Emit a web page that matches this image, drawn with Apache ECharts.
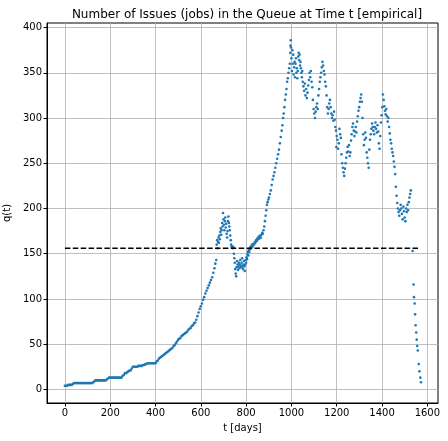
<!DOCTYPE html>
<html>
<head>
<meta charset="utf-8">
<script src="https://cdn.jsdelivr.net/npm/echarts@6/dist/echarts.min.js"></script>
<style>
  html, body { margin: 0; padding: 0; background: #fff; }
  #queue { width: 448px; height: 441px; }
</style>
</head>
<body>
<div id="queue"></div>
<script>
  // t [days] and q(t)
  var tDays = [
    0, 5, 10, 15, 20, 25, 30, 35, 40, 45, 50, 55, 60, 65, 70, 75, 80, 85, 90, 95,
    100, 105, 110, 115, 120, 125, 130, 135, 140, 145, 150, 155, 160, 165, 170, 175, 180, 185, 190, 195,
    200, 205, 210, 215, 220, 225, 230, 235, 240, 245, 250, 255, 260, 265, 270, 275, 280, 285, 290, 295,
    300, 305, 310, 315, 320, 325, 330, 335, 340, 345, 350, 355, 360, 365, 370, 375, 380, 385, 390, 395,
    400, 405, 410, 415, 420, 425, 430, 435, 440, 445, 450, 455, 460, 465, 470, 475, 480, 485, 490, 495,
    500, 505, 510, 515, 520, 525, 530, 535, 540, 545, 550, 555, 560, 565, 570, 575, 580, 585, 590, 595,
    600, 605, 610, 615, 620, 625, 630, 635, 640, 645, 650, 655, 660, 664, 668,
    670, 672, 674, 676, 678, 680, 682, 684, 686, 688, 690, 692, 694, 696, 698, 700, 702, 704, 706, 708,
    710, 712, 714, 716, 718, 720, 722, 724, 726, 728, 730, 732, 734, 736, 738, 740, 742, 744, 746, 748,
    750, 752, 754, 756, 758, 760, 762, 764, 766, 768, 770, 772, 774, 776, 778, 780, 782, 784, 786, 788,
    790, 792, 794, 796, 798, 800, 802, 804, 806, 808, 810, 812, 814, 816, 818, 820, 823, 826, 829, 832,
    835, 838, 841, 844, 847, 850, 853, 856, 859, 862, 865, 868, 871, 874, 877, 880, 883, 886, 889, 892,
    895, 898, 901, 905, 909, 913, 917, 921, 925, 929, 933, 937, 941, 945, 949, 953, 957, 960, 963, 966,
    969, 972, 975, 978, 981, 984, 987, 990, 993, 995, 996, 997, 998, 1000, 1002, 1004, 1006, 1008, 1010, 1012,
    1014, 1016, 1018, 1020, 1022, 1024, 1026, 1028, 1030, 1032, 1034, 1036, 1038, 1040, 1042, 1044, 1046, 1048, 1050, 1053,
    1056, 1059, 1062, 1065, 1068, 1071, 1074, 1077, 1080, 1083, 1086, 1089, 1092, 1095, 1098, 1101, 1104, 1107, 1110, 1113,
    1116, 1119, 1122, 1125, 1128, 1131, 1134, 1137, 1140, 1143, 1146, 1149, 1152, 1155, 1158, 1161, 1164, 1167, 1170, 1173,
    1176, 1179, 1182, 1185, 1188, 1191, 1194, 1197, 1198, 1200, 1203, 1206, 1209, 1212, 1215, 1218, 1221, 1224, 1227, 1230,
    1233, 1236, 1239, 1242, 1245, 1248, 1251, 1254, 1257, 1260, 1263, 1266, 1269, 1272, 1275, 1278, 1281, 1284, 1287, 1290,
    1293, 1296, 1299, 1302, 1305, 1308, 1311, 1314, 1317, 1320, 1323, 1326, 1329, 1332, 1335, 1338, 1341, 1344, 1347, 1350,
    1353, 1356, 1359, 1362, 1365, 1368, 1371, 1374, 1377, 1380, 1383, 1386, 1389, 1392, 1395, 1398, 1401, 1404, 1407, 1410,
    1413, 1416, 1419, 1422, 1425, 1428, 1431, 1434, 1437, 1440, 1443, 1446, 1449, 1452, 1455, 1458, 1461, 1464, 1467, 1470,
    1473, 1476, 1479, 1482, 1485, 1488, 1491, 1494, 1497, 1500, 1503, 1506, 1509, 1512, 1515, 1518, 1521, 1524, 1527, 1535,
    1539, 1541, 1544, 1546, 1548, 1551, 1553, 1555, 1558, 1562, 1565, 1569, 1572
  ];
  var qJobs = [
    4, 4, 4, 5, 5, 5, 5, 6, 7, 7, 7, 7, 7, 7, 7, 7, 7, 7, 7, 7,
    7, 7, 7, 7, 7, 8, 9, 10, 10, 10, 10, 10, 10, 10, 10, 10, 10, 11, 12, 13,
    13, 13, 13, 13, 13, 13, 13, 13, 13, 13, 13, 15, 16, 18, 18, 19, 20, 21, 21, 23,
    25, 25, 25, 25, 25, 26, 26, 26, 26, 27, 27, 28, 28, 29, 29, 29, 29, 29, 29, 29,
    29, 31, 32, 34, 35, 36, 37, 38, 39, 40, 41, 42, 43, 44, 45, 46, 48, 49, 51, 53,
    55, 56, 57, 59, 60, 61, 62, 63, 64, 66, 67, 68, 70, 71, 73, 74, 77, 81, 85, 89,
    92, 95, 99, 102, 106, 109, 112, 115, 118, 121, 124, 129, 134, 139, 143,
    160, 165, 156, 163, 168, 162, 170, 166, 174, 178, 171, 176, 184, 180, 195, 188, 182, 176, 186, 190,
    179, 183, 172, 168, 175, 186, 191, 184, 180, 176, 170, 165, 160, 158, 157, 158, 156, 157, 150, 145,
    140, 133, 128, 125, 135, 142, 138, 132, 136, 140, 134, 138, 143, 137, 135, 140, 145, 136, 133, 138,
    142, 136, 131, 138, 143, 140, 146, 144, 149, 152, 148, 154, 152, 156, 155, 158, 157, 160, 158, 161,
    160, 163, 162, 165, 164, 167, 166, 169, 167, 170, 168, 171, 173, 172, 176, 180, 186, 192, 198, 204,
    207, 210, 212, 216, 220, 226, 232, 236, 240, 245, 250, 255, 260, 265, 272, 279, 286, 292, 300, 305,
    312, 320, 326, 332, 340, 344, 350, 355, 360, 372, 380, 386, 378, 366, 352, 375, 360, 370, 348, 356,
    362, 345, 360, 366, 350, 355, 344, 352, 368, 372, 364, 370, 358, 362, 355, 350, 345, 352, 340, 335,
    330, 338, 325, 332, 322, 328, 336, 342, 350, 345, 352, 340, 334, 320, 310, 305, 300, 307, 312, 316,
    310, 325, 332, 340, 345, 350, 356, 362, 358, 352, 348, 340, 335, 325, 312, 305, 310, 316, 320, 312,
    305, 300, 303, 297, 307, 298, 290, 286, 268, 280, 276, 266, 272, 288, 282, 278, 260, 250, 245, 240,
    236, 244, 250, 256, 262, 268, 263, 270, 258, 262, 275, 282, 290, 294, 286, 280, 285, 290, 284, 296,
    302, 308, 312, 318, 322, 326, 318, 300, 282, 270, 276, 284, 278, 262, 256, 250, 245, 265, 276, 282,
    288, 294, 290, 286, 282, 290, 295, 288, 284, 292, 285, 272, 266, 280, 295, 303, 312, 326, 320, 313,
    308, 304, 310, 302, 296, 300, 290, 283, 276, 272, 266, 262, 258, 252, 246, 238, 224, 214, 206, 200,
    196, 192, 198, 204, 200, 194, 188, 202, 197, 190, 186, 200, 196, 204, 198, 207, 212, 216, 220, 153,
    116, 102, 95, 83, 71, 63, 55, 48, 43, 28, 20, 13, 8
  ];
  var meanQ = 156;
  var meanSpan = [0, 1565];
  var xTicks = [0, 200, 400, 600, 800, 1000, 1200, 1400, 1600];
  var yTicks = [0, 50, 100, 150, 200, 250, 300, 350, 400];

  var points = [];
  for (var i = 0; i < tDays.length; i++) {
    points.push([tDays[i], qJobs[i]]);
  }

  var font = 'DejaVu Sans';
  var plain = function (v) { return String(v); };
  var chart = echarts.init(document.getElementById('queue'), null, { renderer: 'canvas' });
  chart.setOption({
    animation: false,
    backgroundColor: '#fff',
    title: {
      text: 'Number of Issues (jobs) in the Queue at Time t [empirical]',
      left: 242,
      textAlign: 'center',
      top: 4,
      textStyle: { fontFamily: font, fontSize: 12, fontWeight: 'normal', color: '#000' }
    },
    grid: {
      left: 47, top: 23, width: 391, height: 380,
      containLabel: false,
      outerBoundsMode: 'none',
      show: true, borderColor: '#000', borderWidth: 1, backgroundColor: 'transparent'
    },
    xAxis: {
      type: 'value',
      min: -79, max: 1647,
      name: 't [days]',
      nameLocation: 'middle',
      nameGap: 20,
      nameTextStyle: { fontFamily: font, fontSize: 10, color: '#000' },
      axisLine: { show: true, onZero: false, lineStyle: { color: '#000', width: 1 } },
      axisTick: { show: true, inside: false, length: 3.5, customValues: xTicks, lineStyle: { color: '#000' } },
      axisLabel: { customValues: xTicks, formatter: plain, fontFamily: font, fontSize: 10, color: '#000', margin: 5 },
      splitLine: { show: true, lineStyle: { color: '#b0b0b0', width: 0.8 } }
    },
    yAxis: {
      type: 'value',
      min: -15, max: 405,
      name: 'q(t)',
      nameLocation: 'middle',
      nameGap: 27,
      nameTextStyle: { fontFamily: font, fontSize: 10, color: '#000' },
      axisLine: { show: true, onZero: false, lineStyle: { color: '#000', width: 1 } },
      axisTick: { show: true, inside: false, length: 3.5, customValues: yTicks, lineStyle: { color: '#000' } },
      axisLabel: { customValues: yTicks, formatter: plain, fontFamily: font, fontSize: 10, color: '#000', margin: 5 },
      splitLine: { show: true, lineStyle: { color: '#b0b0b0', width: 0.8 } }
    },
    series: [
      {
        type: 'scatter',
        data: points,
        symbol: 'circle',
        symbolSize: 2.6,
        itemStyle: { color: '#1f77b4', opacity: 1 },
        z: 2
      },
      {
        type: 'line',
        data: [[meanSpan[0], meanQ], [meanSpan[1], meanQ]],
        symbol: 'none',
        lineStyle: { color: '#000', width: 1.5, type: [5.5, 2.4] },
        z: 3
      }
    ]
  });
</script>
</body>
</html>
